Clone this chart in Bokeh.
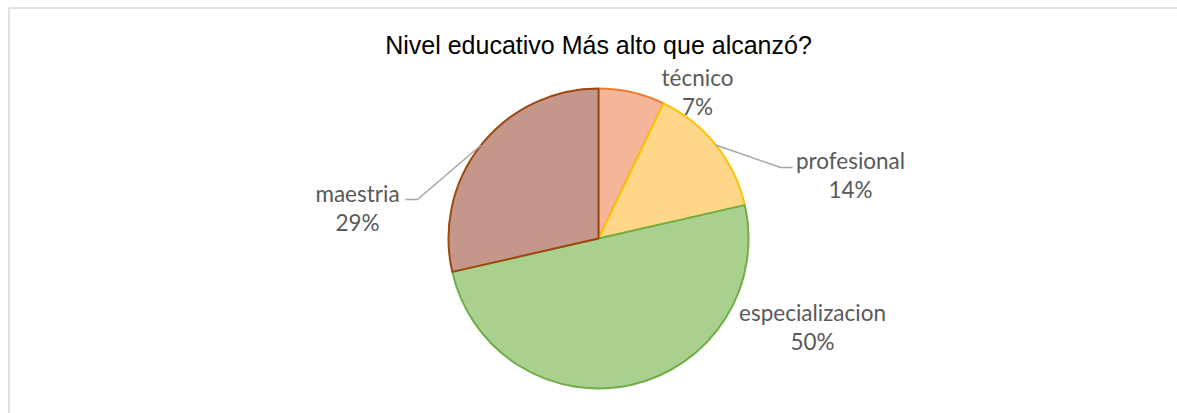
import math
from bokeh.plotting import figure
from bokeh.models import ColumnDataSource
from bokeh.core.properties import value
from bokeh.embed import file_html
from bokeh.resources import INLINE

# ---- data ----
title = "Nivel educativo Más alto que alcanzó?"
categories = ["técnico", "profesional", "especializacion", "maestria"]
counts = [1, 2, 7, 4]

# ---- styles ----
fill_colors = ["#F5B598", "#FFD789", "#A9D08E", "#C4978A"]
line_colors = ["#ED7D31", "#FFC000", "#70AD47", "#9E480E"]

W, H = 1177, 413
p = figure(width=W, height=H, output_backend="svg", toolbar_location=None,
           x_range=(0, W), y_range=(0, H), min_border=0)
p.axis.visible = False
p.grid.visible = False
p.outline_line_color = None
p.background_fill_color = "white"
p.border_fill_color = "white"

# frame (only left and top edges visible in the reference)
p.segment(x0=[8.5, 8.5], y0=[0, 405.5], x1=[8.5, W], y1=[405.5, 405.5],
          line_color="#D9D9D9", line_width=1.5)

cx, cy, r = 598, 175, 150
total = sum(counts)
cum = 0
starts, ends, mids = [], [], []
for c in counts:
    a0 = math.pi / 2 - 2 * math.pi * cum / total
    cum += c
    a1 = math.pi / 2 - 2 * math.pi * cum / total
    starts.append(a0)
    ends.append(a1)
    mids.append((a0 + a1) / 2)

for i in range(len(counts)):
    p.wedge(x=cx, y=cy, radius=r, start_angle=starts[i], end_angle=ends[i],
            direction="clock", fill_color=fill_colors[i],
            line_color=line_colors[i], line_width=2)

# label layout (pixel offsets from pie centre)
label_dx = [99, 252, 214, -241]
label_dy = [161, 78, -74, 45]
line_gap = 29
names, pcts, xs, ys1, ys2 = [], [], [], [], []
for i, c in enumerate(counts):
    xs.append(cx + label_dx[i])
    ys1.append(cy + label_dy[i])
    ys2.append(cy + label_dy[i] - line_gap)
    names.append(categories[i])
    pcts.append(f"{round(100 * c / total)}%")

src = ColumnDataSource(dict(x=xs, y1=ys1, y2=ys2, n=names, pc=pcts))
for ycol, tcol in (("y1", "n"), ("y2", "pc")):
    p.text(x="x", y=ycol, text=tcol, source=src, text_font=value("Lato"),
           text_font_size="22.5px", text_color="#595959",
           text_align="center", text_baseline="middle")

# leader lines for profesional (1) and maestria (3)
elbows = {1: [(182, 71), (194, 71)], 3: [(-181, 39), (-193, 39)]}
for i, pts in elbows.items():
    ex = cx + r * math.cos(mids[i])
    ey = cy + r * math.sin(mids[i])
    p.line(x=[ex] + [cx + a for a, b in pts], y=[ey] + [cy + b for a, b in pts],
           line_color="#A6A6A6", line_width=1.5)

p.text(x=[cx], y=[368.5], text=[title], text_font=value("Liberation Sans"),
       text_font_size="25px", text_color="#000000",
       text_align="center", text_baseline="middle")

open("out.html", "w").write(file_html(p, INLINE))
